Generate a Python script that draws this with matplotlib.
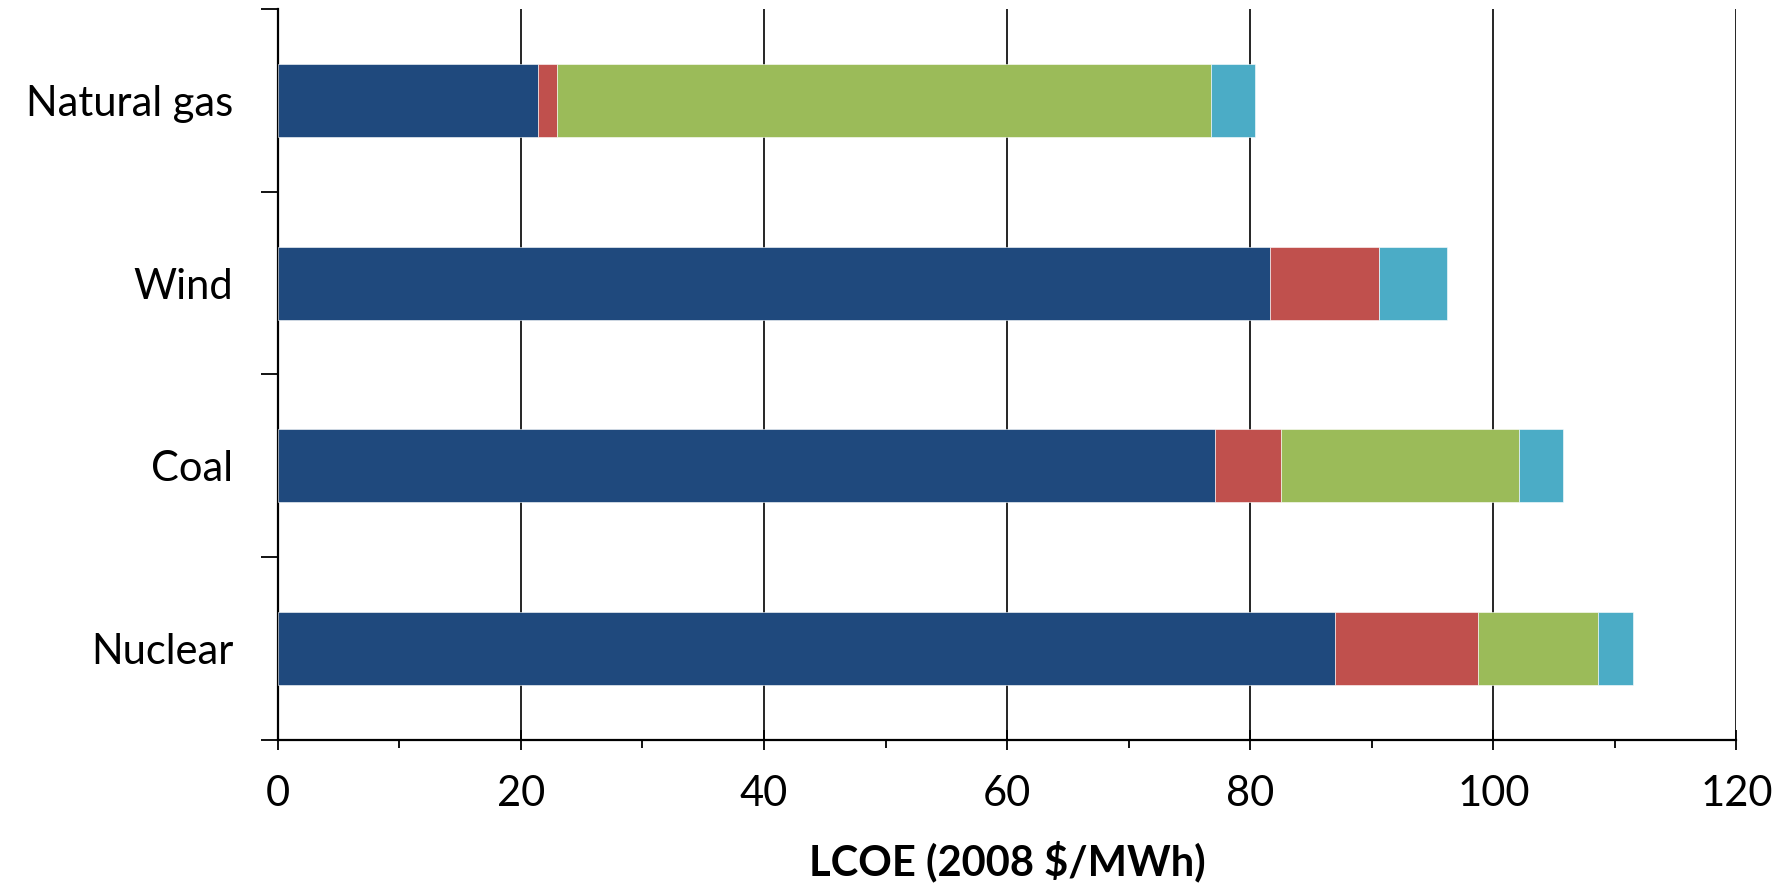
import numpy as np
import matplotlib.pyplot as plt
from matplotlib.ticker import MultipleLocator, FixedLocator, NullFormatter

# dữ liệu
categories = ["Nuclear", "Coal", "Wind", "Natural gas"]
capital = [87.0, 77.1, 81.6, 21.4]
fixed_om = [11.7, 5.4, 9.0, 1.6]
fuel = [9.9, 19.6, 0.0, 53.8]
transmission = [2.9, 3.6, 5.6, 3.6]

series = [capital, fixed_om, fuel, transmission]
colors = ["#1F497D", "#C0504D", "#9BBB59", "#4BACC6"]

plt.rcParams['font.family'] = ['Lato', 'DejaVu Sans']

fig = plt.figure(figsize=(17.92, 8.91), dpi=100)
ax = fig.add_axes([0.155, 0.1695, 0.814, 0.8205])

y = np.arange(len(categories))
left = np.zeros(len(categories))
for vals, c in zip(series, colors):
    vals = np.array(vals)
    ax.barh(y, vals, left=left, height=0.4, color=c, edgecolor='white', linewidth=0.4, zorder=3)
    left += vals

ax.set_xlim(0, 120)
ax.set_ylim(-0.5, 3.5)

# lưới dọc
ax.xaxis.set_major_locator(MultipleLocator(20))
ax.xaxis.set_minor_locator(MultipleLocator(10))
ax.grid(axis='x', which='major', color='black', linewidth=1.2, zorder=0)
ax.tick_params(axis='x', which='major', direction='inout', length=14, width=1.3, labelsize=30, pad=18)
ax.tick_params(axis='x', which='minor', direction='out', length=6, width=1.3)

# trục y: vạch ở ranh giới, nhãn ở giữa
ax.yaxis.set_major_locator(FixedLocator(y))
ax.set_yticklabels(categories)
ax.yaxis.set_minor_locator(FixedLocator(np.arange(-0.5, 3.6, 1.0)))
ax.yaxis.set_minor_formatter(NullFormatter())
ax.tick_params(axis='y', which='major', length=0, labelsize=30, pad=32)
ax.tick_params(axis='y', which='minor', direction='out', length=12, width=1.3)

for s in ['top', 'right']:
    ax.spines[s].set_visible(False)
for s in ['left', 'bottom']:
    ax.spines[s].set_linewidth(1.6)

ax.set_xlabel("LCOE (2008 $/MWh)", fontsize=30, fontweight='bold', labelpad=20)

fig.savefig("out.png", dpi=100)
